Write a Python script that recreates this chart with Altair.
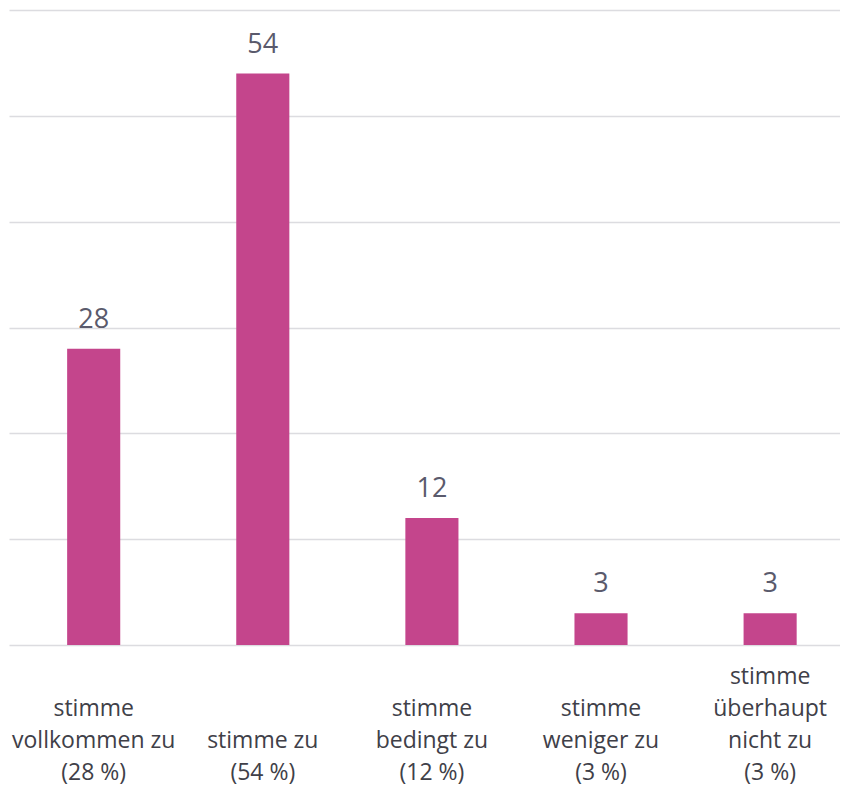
import altair as alt
import pandas as pd

categories = [
    "stimme|vollkommen zu|(28 %)",
    "stimme zu|(54 %)",
    "stimme|bedingt zu|(12 %)",
    "stimme|weniger zu|(3 %)",
    "stimme|überhaupt|nicht zu|(3 %)",
]
values = [28, 54, 12, 3, 3]
y_ticks = [0, 10, 20, 30, 40, 50, 60]

df = pd.DataFrame({"cat": categories, "val": values})

FONT = "Open Sans"

# pad every label to four lines (with zero-width spaces) so the last lines line up at the bottom
label_expr = (
    "split(substring('\u200b|\u200b|\u200b|', 0, 2 * (4 - length(split(datum.label, '|')))) + datum.label, '|')"
)

x = alt.X(
    "cat:N",
    sort=categories,
    title=None,
    scale=alt.Scale(paddingInner=0.686, paddingOuter=0.300, align=0.573),
    axis=alt.Axis(
        labelExpr=label_expr,
        labelAngle=0,
        labelFont=FONT,
        labelFontSize=23,
        labelColor="#404048",
        labelLineHeight=32,
        labelBaseline="alphabetic",
        labelPadding=38,
        ticks=False,
        domain=False,
        labelLimit=300,
    ),
)
y = alt.Y(
    "val:Q",
    title=None,
    scale=alt.Scale(domain=[0, 60], nice=False),
    axis=alt.Axis(
        values=y_ticks,
        labels=False,
        ticks=False,
        domain=False,
        grid=True,
        gridColor="#dcdce0",
        gridWidth=1.3,
    ),
)

bars = alt.Chart(df).mark_bar(color="#c4458c").encode(x=x, y=y)
labels = alt.Chart(df).mark_text(
    font=FONT, fontSize=27, color="#5a5a6c", baseline="alphabetic", dy=-21
).encode(x=alt.X("cat:N", sort=categories), y="val:Q", text="val:Q")

chart = (
    alt.layer(bars, labels)
    .properties(
        width=831,
        height=635,
        padding={"left": 1, "top": 2, "right": 0, "bottom": 140},
        autosize=alt.AutoSizeParams(type="none"),
    )
    .configure_view(stroke=None)
)

chart.save("out.html", embed_options={"renderer": "svg", "actions": False})
